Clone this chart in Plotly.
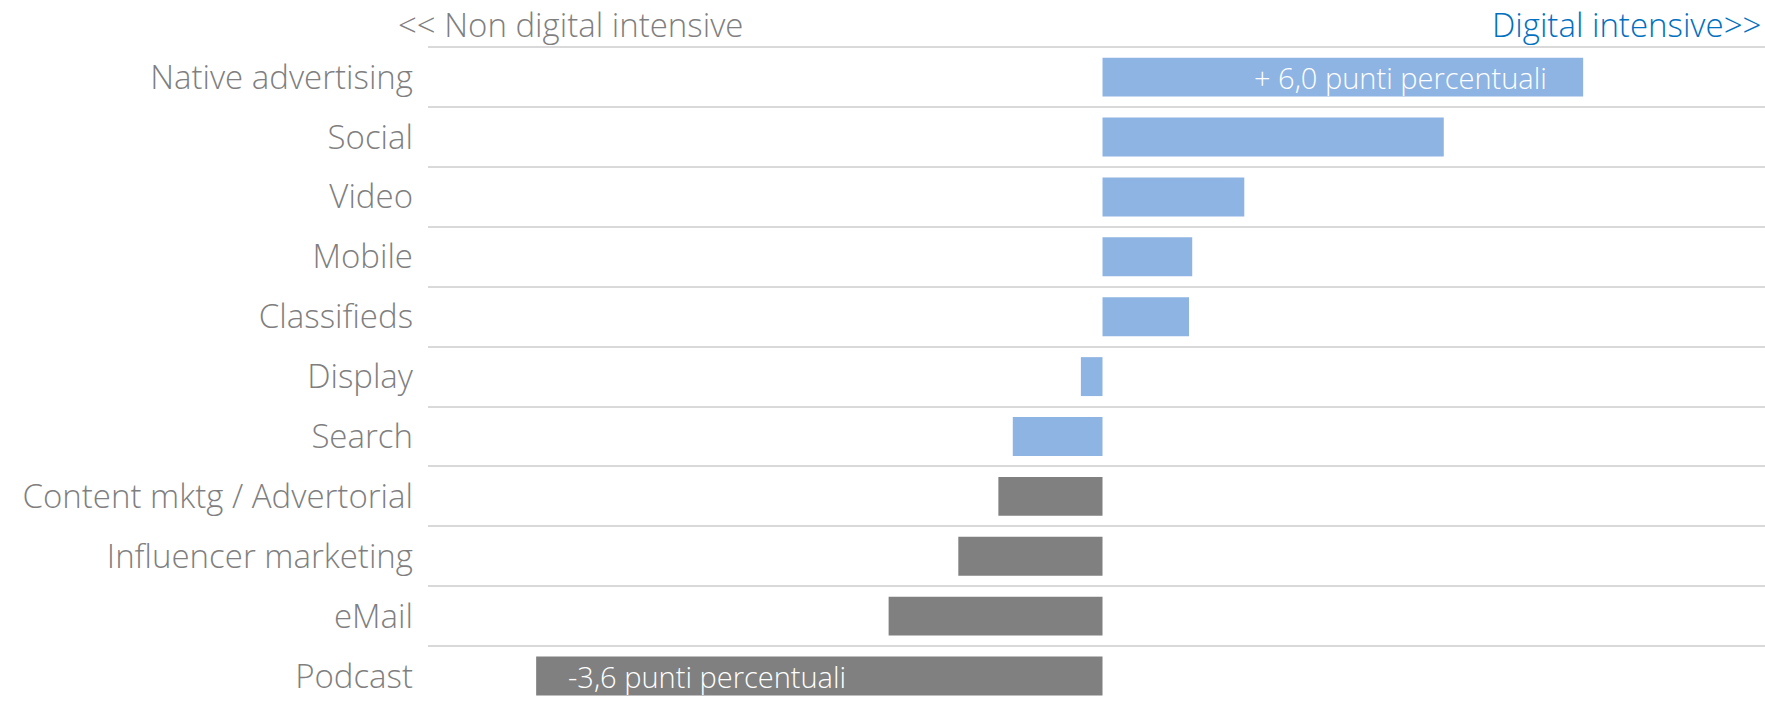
import plotly.graph_objects as go

categories = ["Native advertising", "Social", "Video", "Mobile", "Classifieds", "Display",
              "Search", "Content mktg / Advertorial", "Influencer marketing", "eMail", "Podcast"]
values = [6.0, 4.26, 1.77, 1.12, 1.08, -0.27, -1.12, -1.30, -1.80, -2.67, -7.07]
groups = ["digital"] * 7 + ["non"] * 4
label_texts = {"Native advertising": "+ 6,0 punti percentuali", "Podcast": "-3,6 punti percentuali"}

BLUE = "#8EB4E3"
GREY = "#808080"
colors = [BLUE if g == "digital" else GREY for g in groups]

FONT = "Open Sans"
TXT = "#7f7f7f"

fig = go.Figure()
fig.add_trace(go.Bar(
    y=categories, x=values, orientation="h",
    marker=dict(color=colors, line=dict(width=0)),
    width=0.65, hoverinfo="skip",
))

annotations = []
for c, v in zip(categories, values):
    if c in label_texts:
        if v > 0:
            annotations.append(dict(x=v, y=c, xref="x", yref="y", text=label_texts[c],
                                    xanchor="right", xshift=-34, showarrow=False,
                                    font=dict(family=FONT, size=29, color="white", weight=300)))
        else:
            annotations.append(dict(x=v, y=c, xref="x", yref="y", text=label_texts[c],
                                    xanchor="left", xshift=30, showarrow=False,
                                    font=dict(family=FONT, size=29, color="white", weight=300)))

annotations.append(dict(x=(396 - 428) / (1765 - 428), y=1, xref="paper", yref="paper",
                        text="<< Non digital intensive", showarrow=False,
                        xanchor="left", yanchor="bottom", yshift=-3,
                        font=dict(family=FONT, size=33, color=TXT, weight=300)))
annotations.append(dict(x=1, y=1, xref="paper", yref="paper", text="Digital intensive>>",
                        showarrow=False, xanchor="right", yanchor="bottom", yshift=-3, xshift=-2,
                        font=dict(family=FONT, size=33, color="#0070C0", weight=300)))

fig.update_layout(
    width=1765, height=703,
    margin=dict(l=428, r=0, t=46, b=0),
    paper_bgcolor="white", plot_bgcolor="white",
    showlegend=False,
    annotations=annotations,
    xaxis=dict(range=[-8.42, 8.27], showgrid=False, zeroline=False, showticklabels=False,
               ticks=""),
    yaxis=dict(categoryorder="array", categoryarray=categories,
               range=[10.45, -0.52], tickson="boundaries", showgrid=True,
               gridcolor="#d9d9d9", gridwidth=2, ticks="", zeroline=False,
               ticklabelstandoff=14, autorange=False,
               tickfont=dict(family=FONT, size=33, color=TXT, weight=300)),
)

fig.write_html("out.html", config={"displayModeBar": False},
               post_script="document.body.style.margin='0';document.body.style.overflow='hidden';")
